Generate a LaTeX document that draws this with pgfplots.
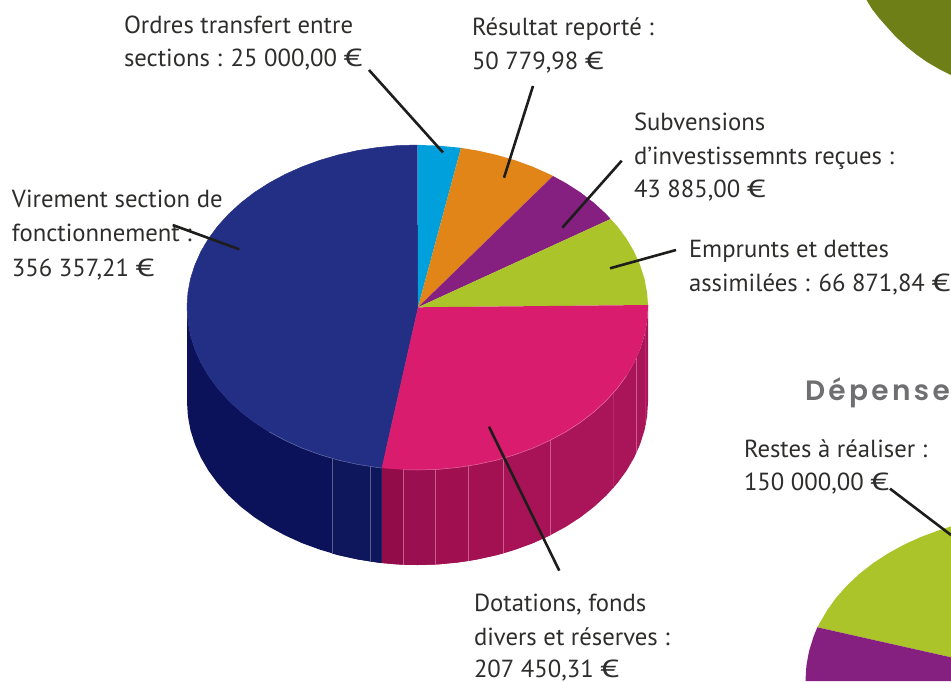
\documentclass[border=0pt]{standalone}
\usepackage{pgfplots}
\usepackage{graphicx}
\usepackage{fontspec}
\pgfplotsset{compat=1.18}
\setmainfont{PT Sans}
\newfontfamily\headfont[LetterSpace=12]{Poppins SemiBold}
\newcommand{\eur}{\scalebox{1.4}[1]{€}}
\definecolor{navy}{HTML}{232F84}
\definecolor{navyS}{HTML}{0C1259}
\definecolor{navyT}{HTML}{0F175C}
\definecolor{cyanP}{HTML}{00A0DC}
\definecolor{orangeP}{HTML}{E18518}
\definecolor{purpleP}{HTML}{852081}
\definecolor{greenP}{HTML}{ABC42A}
\definecolor{pinkP}{HTML}{DA1C6F}
\definecolor{pinkS}{HTML}{AA1458}
\definecolor{olive}{HTML}{6F7F17}
\definecolor{ink}{HTML}{1D1D1B}
\definecolor{txt}{HTML}{2E2D2C}
\tikzset{lab/.style={font=\fontsize{24.7}{24.7}\selectfont,text=txt,anchor=base west,inner sep=0pt,outer sep=0pt}}
\begin{document}
\begin{tikzpicture}[x=1pt,y=1pt]
\begin{axis}[scale only axis,width=951pt,height=681pt,xmin=0,xmax=951,ymin=0,ymax=681,y dir=reverse,hide axis,
  anchor=south west,at={(0pt,0pt)},
  lead/.style={draw=ink,line width=2.6pt},
  sv/.style={draw=#1,line width=0.5pt}]
% olive blob
\addplot[fill=olive,draw=none] coordinates {(866.5,0)(872,9)(879,18)(887,27)(896,37)(907,47)(917,55)(927,62)(939,69)(951,75)(951,0)};
% second pie
\addplot[fill=greenP,draw=none] coordinates {(817.3,627.3)(819.4,623.6)(827.1,610.3)(836.3,597.5)(847.1,585.4)(859.3,573.9)(872.9,563.3)(887.7,553.6)(903.6,544.8)(920.5,537.1)(938.3,530.5)(951,526.4)(951,657.3)};
\addplot[fill=purpleP,draw=none] coordinates {(805.5,681)(805.5,680)(806.4,665.6)(809,651.3)(813.3,637.3)(817.3,627.3)(951,657.3)(951,681)};
% side of the pink slice
\addplot[fill=pinkS,draw=none] coordinates {(648,305)(648,307)(647.1,321.2)(644.5,335.3)(640.1,349.2)(634.1,362.7)(626.4,375.9)(617.1,388.5)(606.3,400.5)(594.1,411.8)(580.5,422.3)(565.7,431.9)(549.7,440.5)(532.75,448.2)(514.9,454.7)(496.3,460.2)(477.2,464.4)(457.5,467.5)(437.6,469.4)(417.5,470)(397.4,469.4)(381.7,468)(381.7,563)(397.4,564.4)(417.5,565)(437.6,564.4)(457.5,562.5)(477.2,559.4)(496.3,555.2)(514.9,549.7)(532.75,543.2)(549.7,535.5)(565.7,526.9)(580.5,517.3)(594.1,506.8)(606.3,495.5)(617.1,483.5)(626.4,470.9)(634.1,457.7)(640.1,444.2)(644.5,430.3)(647.1,416.2)(648,402)};
\addplot[fill={rgb,255:red,146;green,12;blue,74},draw=none] coordinates {(381.7,450)(403.3,450)(403.3,564.7)(397.4,564.4)(381.7,563)};
\addplot[fill={rgb,255:red,154;green,15;blue,79},draw=none] coordinates {(403.3,450)(435.3,450)(435.3,564.5)(417.5,565)(403.3,564.7)};
\addplot[fill={rgb,255:red,160;green,16;blue,80},draw=none] coordinates {(435.3,450)(468.3,450)(468.3,561)(457.5,562.5)(437.6,564.4)(435.3,564.5)};
\addplot[fill={rgb,255:red,164;green,17;blue,83},draw=none] coordinates {(468.3,450)(503.3,450)(503.3,553.3)(496.3,555.2)(477.2,559.4)(468.3,561)};
\addplot[fill={rgb,255:red,168;green,19;blue,87},draw=none] coordinates {(503.3,440)(550.5,430)(550.5,535.1)(549.7,535.5)(532.75,543.2)(514.9,549.7)(503.3,553.3)};
% side of the navy slice
\addplot[fill=navyS,draw=none] coordinates {(381.7,468)(377.5,467.5)(357.8,464.4)(338.7,460.2)(320.1,454.7)(302.25,448.2)(285.3,440.5)(269.3,431.9)(254.5,422.3)(240.9,411.8)(228.7,400.5)(217.9,388.5)(208.6,375.9)(200.9,362.7)(194.9,349.2)(190.5,335.3)(187.9,321.2)(187,307)(187,402)(187.9,416.2)(190.5,430.3)(194.9,444.2)(200.9,457.7)(208.6,470.9)(217.9,483.5)(228.7,495.5)(240.9,506.8)(254.5,517.3)(269.3,526.9)(285.3,535.5)(302.25,543.2)(320.1,549.7)(338.7,555.2)(357.8,559.4)(377.5,562.5)(381.7,563)};
\addplot[fill=navyT,draw=none] coordinates {(332.3,440)(381.7,440)(381.7,563)(377.5,562.5)(357.8,559.4)(338.7,555.2)(332.3,553.5)};
% thin lines on the side
\addplot[draw={rgb,255:red,200;green,92;blue,140},line width=0.6pt] coordinates {(403.3,469.7)(403.3,564.7)};
\addplot[draw={rgb,255:red,200;green,92;blue,140},line width=0.6pt] coordinates {(435.3,469.5)(435.3,564.5)};
\addplot[draw={rgb,255:red,200;green,92;blue,140},line width=0.6pt] coordinates {(468.3,466)(468.3,561)};
\addplot[draw={rgb,255:red,200;green,92;blue,140},line width=0.6pt] coordinates {(503.3,458.3)(503.3,553.3)};
\addplot[draw={rgb,255:red,200;green,92;blue,140},line width=0.6pt] coordinates {(550.5,440.1)(550.5,535.1)};
\addplot[draw={rgb,255:red,186;green,40;blue,106},line width=0.5pt] coordinates {(613,393.3)(613,488.3)};
\addplot[draw={rgb,255:red,200;green,92;blue,140},line width=0.6pt] coordinates {(636.7,357.4)(636.7,452.4)};
\addplot[draw={rgb,255:red,186;green,40;blue,106},line width=0.5pt] coordinates {(645.7,330)(645.7,425)};
\addplot[draw={rgb,255:red,90;green,94;blue,142},line width=0.6pt] coordinates {(332.3,458.5)(332.3,553.5)};
\addplot[draw={rgb,255:red,90;green,94;blue,142},line width=0.6pt] coordinates {(370.3,466.5)(370.3,561.5)};
% top faces
\addplot[fill=navy,sv=navy] coordinates {(418,307.3)(381.7,468)(377.5,467.5)(357.8,464.4)(338.7,460.2)(320.1,454.7)(302.25,448.2)(285.3,440.5)(269.3,431.9)(254.5,422.3)(240.9,411.8)(228.7,400.5)(217.9,388.5)(208.6,375.9)(200.9,362.7)(194.9,349.2)(190.5,335.3)(187.9,321.2)(187,307)(187.9,292.9)(190.5,278.9)(194.9,265.1)(200.9,251.6)(208.6,238.5)(217.9,226)(228.7,214.1)(240.9,202.9)(254.5,192.4)(269.3,182.9)(285.3,174.3)(302.25,166.7)(320.1,160.2)(338.7,154.8)(357.8,150.5)(377.5,147.5)(397.4,145.6)(417.5,145)};
\addplot[fill=cyanP,draw=none] coordinates {(418,307.3)(417.5,145)(437.6,145.6)(457.5,147.5)(461,147.9)};
\addplot[fill=orangeP,draw=none] coordinates {(418,307.3)(461,147.9)(477.2,150.5)(496.3,154.8)(514.9,160.2)(532.75,166.7)(549.7,174.3)(553,176)};
\addplot[fill=purpleP,draw=none] coordinates {(418,307.3)(553,176)(565.7,182.9)(580.5,192.4)(594.1,202.9)(606.3,214.1)(610.6,219)};
\addplot[fill=greenP,draw=none] coordinates {(418,307.3)(610.6,219)(617.1,226)(626.4,238.5)(634.1,251.6)(640.1,265.1)(644.5,278.9)(647.1,292.9)(648,305)};
\addplot[fill=pinkP,draw=none] coordinates {(418,307.3)(648,305)(648,307)(647.1,321.2)(644.5,335.3)(640.1,349.2)(634.1,362.7)(626.4,375.9)(617.1,388.5)(606.3,400.5)(594.1,411.8)(580.5,422.3)(565.7,431.9)(549.7,440.5)(532.75,448.2)(514.9,454.7)(496.3,460.2)(477.2,464.4)(457.5,467.5)(437.6,469.4)(417.5,470)(397.4,469.4)(381.7,468)};
% light rim along the front
\addplot[draw={rgb,255:red,230;green,110;blue,160},line width=0.5pt] coordinates {(626.4,375.9)(617.1,388.5)(606.3,400.5)(594.1,411.8)(580.5,422.3)(565.7,431.9)(549.7,440.5)(532.75,448.2)(514.9,454.7)(496.3,460.2)(477.2,464.4)(457.5,467.5)(437.6,469.4)(417.5,470)(403.3,469.7)};
\addplot[draw={rgb,255:red,110;green,118;blue,170},line width=0.4pt] coordinates {(381.7,468)(377.5,467.5)(357.8,464.4)(338.7,460.2)(320.1,454.7)(302.25,448.2)(285.3,440.5)(269.3,431.9)};
% labels
\node[lab] at (axis cs:124,33) {Ordres transfert entre};
\node[lab] at (axis cs:124,66) {sections : 25 000,00 \eur};
\node[lab] at (axis cs:472,35) {Résultat reporté :};
\node[lab] at (axis cs:472,69) {50 779,98 \eur};
\node[lab] at (axis cs:634,130) {Subvensions};
\node[lab] at (axis cs:634,164) {d’investissemnts reçues :};
\node[lab] at (axis cs:634,197) {43 885,00 \eur};
\node[lab] at (axis cs:689,257) {Emprunts et dettes};
\node[lab] at (axis cs:689,291) {assimilées : 66 871,84 \eur};
\node[lab] at (axis cs:12,207.3) {Virement section de};
\node[lab] at (axis cs:12,241.7) {fonctionnement :};
\node[lab] at (axis cs:12,276) {356 357,21 \eur};
\node[lab] at (axis cs:474,611) {Dotations, fonds};
\node[lab] at (axis cs:474,645) {divers et réserves :};
\node[lab] at (axis cs:474,677.3) {207 450,31 \eur};
\node[lab] at (axis cs:744,457) {Restes à réaliser :};
\node[lab] at (axis cs:744,490.7) {150 000,00 \eur};
\node[lab,font=\headfont\fontsize{28}{28}\selectfont,text={rgb,255:red,111;green,111;blue,114}] at (axis cs:805,400.7) {Dépense};
% leader lines
\addplot[lead] coordinates {(369,70)(443,152.5)};
\addplot[lead] coordinates {(533,86)(504,177.7)};
\addplot[lead] coordinates {(621.7,160.7)(562.3,227.7)};
\addplot[lead] coordinates {(676,250)(610,268.3)};
\addplot[lead] coordinates {(489,426.7)(559.3,570.7)};
\addplot[lead] coordinates {(172.7,225)(239.3,249.3)};
\addplot[lead] coordinates {(890,488.7)(951,535)};
\end{axis}
\pgfresetboundingbox
\path[use as bounding box] (0pt,0pt) rectangle (951pt,681pt);
\end{tikzpicture}
\end{document}
